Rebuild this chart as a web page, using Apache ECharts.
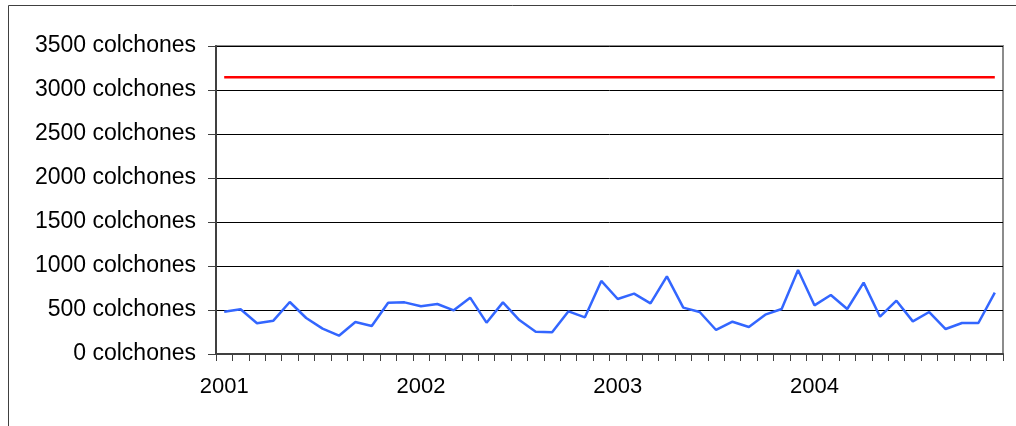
<!DOCTYPE html>
<html>
<head>
<meta charset="utf-8">
<script src="https://cdn.jsdelivr.net/npm/echarts@6/dist/echarts.min.js"></script>
<style>
  html, body { margin: 0; padding: 0; background: #fff; }
</style>
</head>
<body>
<div id="myChart" style="width: 1016px; height: 426px;"></div>
<script>
  // meses 2001-2004
  const years = ['2001', '2002', '2003', '2004'];
  const months = [];
  years.forEach(y => { for (let m = 1; m <= 12; m++) months.push(y + '-' + m); });

  const ventas = [
    481, 508, 349, 379, 591, 409, 288, 208, 364, 318, 583, 587,
    542, 568, 496, 640, 356, 587, 386, 254, 246, 485, 417, 830,
    625, 686, 576, 883, 527, 477, 273, 367, 307, 447, 511, 955,
    553, 670, 511, 811, 424, 606, 371, 477, 284, 352, 352, 697
  ];
  const capacidad = months.map(() => 3145);

  const yTicks = { min: 0, max: 3500, interval: 500 };

  let myChart = echarts.init(document.getElementById('myChart'));
  myChart.setOption({
    animation: false,
    backgroundColor: '#fff',
    graphic: [{
      type: 'rect',
      shape: { x: 8.5, y: 5.5, width: 1020, height: 430 },
      style: { fill: 'none', stroke: '#404040', lineWidth: 1 },
      silent: true
    }],
    grid: {
      left: 216,
      top: 46,
      right: 13,
      bottom: 72,
      show: true,
      borderColor: '#8c8c8c',
      borderWidth: 2
    },
    xAxis: {
      type: 'category',
      boundaryGap: true,
      data: months,
      axisLine: { lineStyle: { color: '#404040', width: 2 } },
      axisTick: { show: true, interval: 0, length: 7, lineStyle: { color: '#404040', width: 1 } },
      axisLabel: {
        interval: (i) => i % 12 === 0,
        formatter: (v) => v.split('-')[0],
        fontFamily: 'Liberation Sans, Arial',
        fontSize: 22,
        color: '#000',
        margin: 22
      },
      splitLine: { show: false }
    },
    yAxis: {
      type: 'value',
      min: yTicks.min,
      max: yTicks.max,
      interval: yTicks.interval,
      axisLine: { show: true, lineStyle: { color: '#404040', width: 2 } },
      axisTick: { show: true, length: 8, lineStyle: { color: '#404040', width: 1 } },
      axisLabel: {
        formatter: (v) => v + ' colchones',
        fontFamily: 'Liberation Sans, Arial',
        fontSize: 23,
        color: '#000',
        margin: 20
      },
      splitLine: { lineStyle: { color: '#000', width: 1 } }
    },
    series: [
      {
        name: 'capacidad',
        type: 'line',
        data: capacidad,
        showSymbol: false,
        lineStyle: { color: '#ff0000', width: 2.5 },
        itemStyle: { color: '#ff0000' }
      },
      {
        name: 'ventas',
        type: 'line',
        data: ventas,
        showSymbol: false,
        lineStyle: { color: '#3366ff', width: 2.5 },
        itemStyle: { color: '#3366ff' }
      }
    ]
  });
</script>
</body>
</html>
